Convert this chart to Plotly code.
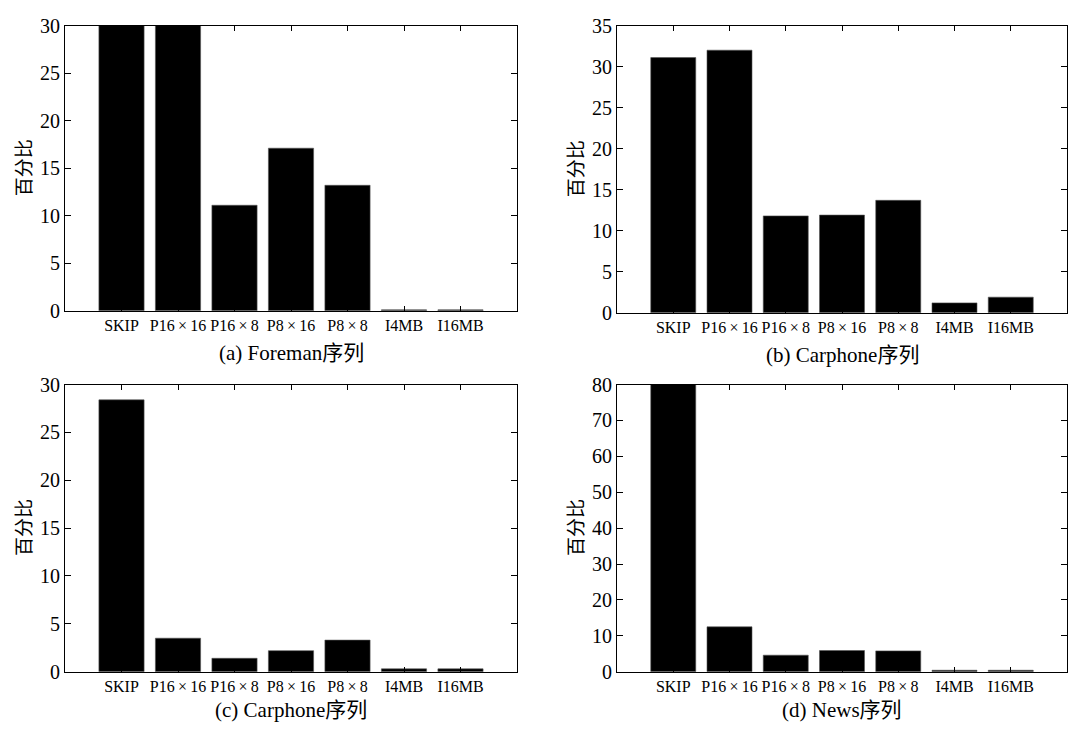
import plotly.graph_objects as go

categories = ["SKIP", "P16×16", "P16×8", "P8×16", "P8×8", "I4MB", "I16MB"]
tick_labels = ["SKIP", "P16\u2009×\u200916", "P16\u2009×\u20098", "P8\u2009×\u200916",
               "P8\u2009×\u20098", "I4MB", "I16MB"]

foreman_a = [30, 30, 11.1, 17.1, 13.2, 0.1, 0.1]
carphone_b = [31.1, 32.0, 11.8, 11.9, 13.7, 1.2, 1.9]
carphone_c = [28.4, 3.5, 1.4, 2.2, 3.3, 0.3, 0.3]
news_d = [80, 12.5, 4.6, 5.9, 5.8, 0.4, 0.4]

captions = ["(a) Foreman序列", "(b) Carphone序列", "(c) Carphone序列", "(d) News序列"]
y_ranges = [[0, 30], [0, 35], [0, 30], [0, 80]]
y_dticks = [5, 5, 5, 10]

W, H = 1080, 738
# pixel boxes: left, right, top, bottom
boxes = [(65, 517, 15, 309), (617, 1067, 15, 311), (65, 517, 385, 681), (617, 1067, 385, 681)]
caption_y = [353, 355, 720, 720]

SERIF = "Liberation Serif"
CJK = "Liberation Serif, Noto Sans CJK SC"

fig = go.Figure()
series = [foreman_a, carphone_b, carphone_c, news_d]
layout = dict(
    width=W, height=H, margin=dict(l=0, r=0, t=0, b=0),
    paper_bgcolor="white", plot_bgcolor="white", showlegend=False,
    bargap=0.2,
)
annotations = []
for i, vals in enumerate(series):
    n = "" if i == 0 else str(i + 1)
    fig.add_trace(go.Bar(x=categories, y=vals, xaxis="x" + n, yaxis="y" + n,
                         marker=dict(color="black", line=dict(width=0.6, color="#555")),
                         width=0.8))
    l, r, t, b = boxes[i]
    layout["xaxis" + n] = dict(
        domain=[l / W, r / W], anchor="y" + n, range=[-1, 7],
        tickmode="array", tickvals=categories, ticktext=tick_labels,
        showline=True, linecolor="black", linewidth=1, mirror="ticks",
        ticks="inside", ticklen=5, tickcolor="black",
        tickfont=dict(family=CJK, size=16, color="black"),
        showgrid=False, zeroline=False, fixedrange=True,
    )
    layout["yaxis" + n] = dict(
        domain=[1 - b / H, 1 - t / H], anchor="x" + n, range=y_ranges[i],
        dtick=y_dticks[i], tick0=0,
        showline=True, linecolor="black", linewidth=1, mirror="ticks",
        ticks="inside", ticklen=6, tickcolor="black",
        tickfont=dict(family=SERIF, size=20, color="black"),
        showgrid=False, zeroline=False, fixedrange=True,
    )
    annotations.append(dict(
        text=captions[i], x=(l + r) / 2 / W, y=1 - caption_y[i] / H,
        xref="paper", yref="paper", showarrow=False,
        xanchor="center", yanchor="middle",
        font=dict(family=CJK, size=21, color="black"),
    ))
    annotations.append(dict(
        text="百分比", x=(l - 43) / W, y=1 - (t + b) / 2 / H,
        xref="paper", yref="paper", showarrow=False, textangle=-90,
        xanchor="center", yanchor="middle",
        font=dict(family="Noto Sans CJK SC", size=19, color="black"),
    ))
layout["annotations"] = annotations
fig.update_layout(**layout)
fig.write_html("out.html")
